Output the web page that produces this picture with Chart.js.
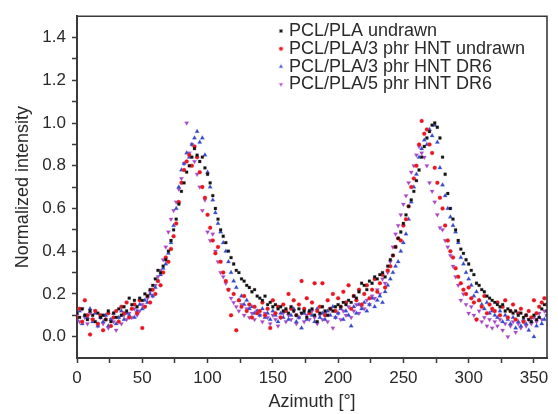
<!DOCTYPE html>
<html>
<head>
<meta charset="utf-8">
<script src="https://cdn.jsdelivr.net/npm/chart.js@4.4.1/dist/chart.umd.min.js"></script>
<style>
  html, body { margin: 0; padding: 0; background: #fff; }
  #wrap { width: 558px; height: 414px; }
</style>
</head>
<body>
<div id="wrap"><canvas id="azimuthChart" width="558" height="414"></canvas></div>
<script>
// azimuth positions (degrees)
let azimuth = [
  0, 2, 4, 6, 8, 10, 12, 14, 16, 18, 20, 22, 24, 26, 28, 30, 32, 34, 36, 38,
  40, 42, 44, 46, 48, 50, 52, 54, 56, 58, 60, 62, 64, 66, 68, 70, 72, 74, 76, 78,
  80, 82, 84, 86, 88, 90, 92, 94, 96, 98, 100, 102, 104, 106, 108, 110, 112, 114, 116, 118,
  120, 122, 124, 126, 128, 130, 132, 134, 136, 138, 140, 142, 144, 146, 148, 150, 152, 154, 156, 158,
  160, 162, 164, 166, 168, 170, 172, 174, 176, 178, 180, 182, 184, 186, 188, 190, 192, 194, 196, 198,
  200, 202, 204, 206, 208, 210, 212, 214, 216, 218, 220, 222, 224, 226, 228, 230, 232, 234, 236, 238,
  240, 242, 244, 246, 248, 250, 252, 254, 256, 258, 260, 262, 264, 266, 268, 270, 272, 274, 276, 278,
  280, 282, 284, 286, 288, 290, 292, 294, 296, 298, 300, 302, 304, 306, 308, 310, 312, 314, 316, 318,
  320, 322, 324, 326, 328, 330, 332, 334, 336, 338, 340, 342, 344, 346, 348, 350, 352, 354, 356, 358,
  360
];

let seriesNames = [
  "PCL/PLA undrawn",
  "PCL/PLA/3 phr HNT undrawn",
  "PCL/PLA/3 phr HNT DR6",
  "PCL/PLA/5 phr HNT DR6",
];

let pclPlaUndrawn = [
  0.11, 0.09, 0.13, 0.10, 0.08, 0.12, 0.10, 0.07, 0.11, 0.09,
  0.10, 0.08, 0.12, 0.07, 0.11, 0.09, 0.13, 0.10, 0.14, 0.12,
  0.18, 0.15, 0.17, 0.14, 0.18, 0.17, 0.20, 0.19, 0.22, 0.24,
  0.27, 0.31, 0.30, 0.33, 0.36, 0.40, 0.45, 0.50, 0.55, 0.62,
  0.68, 0.72, 0.77, 0.80, 0.84, 0.88, 0.85, 0.82, 0.84, 0.79,
  0.76, 0.72, 0.66, 0.60, 0.55, 0.50, 0.47, 0.44, 0.40, 0.37,
  0.34, 0.31, 0.30, 0.27, 0.26, 0.24, 0.23, 0.21, 0.22, 0.19,
  0.18, 0.17, 0.19, 0.15, 0.16, 0.14, 0.15, 0.13, 0.14, 0.12,
  0.13, 0.11, 0.14, 0.12, 0.10, 0.13, 0.11, 0.12, 0.09, 0.12,
  0.13, 0.10, 0.07, 0.11, 0.14, 0.12, 0.10, 0.13, 0.12, 0.14,
  0.15, 0.14, 0.16, 0.15, 0.17, 0.16, 0.19, 0.18, 0.21, 0.25,
  0.24, 0.22, 0.26, 0.25, 0.28, 0.27, 0.29, 0.30, 0.28, 0.33,
  0.36, 0.38, 0.42, 0.46, 0.49, 0.53, 0.57, 0.61, 0.64, 0.68,
  0.73, 0.78, 0.84, 0.89, 0.93, 0.96, 0.99, 1.00, 0.98, 0.93,
  0.84, 0.76, 0.67, 0.60, 0.55, 0.50, 0.45, 0.41, 0.39, 0.36,
  0.34, 0.31, 0.29, 0.25, 0.24, 0.22, 0.21, 0.19, 0.18, 0.17,
  0.16, 0.15, 0.14, 0.15, 0.12, 0.13, 0.12, 0.11, 0.12, 0.10,
  0.11, 0.09, 0.10, 0.08, 0.07, 0.10, 0.08, 0.09, 0.13, 0.15,
  0.12
];

let hnt3Undrawn = [
  0.09, 0.13, 0.07, 0.17, 0.10, 0.01, 0.08, 0.12, 0.06, 0.10,
  0.03, 0.08, 0.11, 0.05, 0.09, 0.12, 0.07, 0.14, 0.11, 0.16,
  0.09, 0.13, 0.15, 0.11, 0.17, 0.04, 0.14, 0.19, 0.16, 0.22,
  0.20, 0.26, 0.24, 0.30, 0.37, 0.35, 0.41, 0.47, 0.53, 0.63,
  0.72, 0.78, 0.82, 0.85, 0.80, 0.89, 0.84, 0.77, 0.70, 0.65,
  0.57, 0.51, 0.45, 0.39, 0.42, 0.35, 0.30, 0.26, 0.22, 0.10,
  0.20, 0.03, 0.17, 0.14, 0.19, 0.12, 0.15, 0.09, 0.14, 0.11,
  0.12, 0.16, 0.10, 0.13, 0.04, 0.17, 0.11, 0.14, 0.09, 0.15,
  0.12, 0.20, 0.13, 0.17, 0.10, 0.15, 0.26, 0.13, 0.18, 0.11,
  0.16, 0.25, 0.12, 0.14, 0.25, 0.10, 0.17, 0.13, 0.20, 0.12,
  0.18, 0.14, 0.21, 0.16, 0.24, 0.13, 0.19, 0.17, 0.22, 0.15,
  0.20, 0.24, 0.18, 0.22, 0.27, 0.21, 0.25, 0.29, 0.23, 0.31,
  0.33, 0.38, 0.42, 0.46, 0.45, 0.52, 0.55, 0.61, 0.70, 0.74,
  0.80, 0.90, 1.01, 0.95, 0.97, 0.90, 0.86, 0.79, 0.72, 0.65,
  0.60, 0.52, 0.45, 0.40, 0.37, 0.32, 0.28, 0.25, 0.22, 0.20,
  0.23, 0.18, 0.16, 0.08, 0.17, 0.14, 0.19, 0.11, 0.15, 0.13,
  0.12, 0.16, 0.10, 0.14, 0.17, 0.09, 0.12, 0.15, 0.08, 0.11,
  0.13, 0.07, 0.10, 0.12, 0.09, 0.17, 0.11, 0.14, 0.16, 0.18,
  0.15
];

let hnt3DR6 = [
  0.08, 0.12, 0.06, 0.10, 0.09, 0.13, 0.07, 0.11, 0.05, 0.09,
  0.07, 0.10, 0.05, 0.08, 0.11, 0.06, 0.09, 0.12, 0.08, 0.11,
  0.10, 0.13, 0.09, 0.12, 0.15, 0.13, 0.17, 0.16, 0.20, 0.19,
  0.23, 0.26, 0.29, 0.32, 0.34, 0.39, 0.44, 0.52, 0.60, 0.70,
  0.78, 0.81, 0.86, 0.84, 0.90, 0.93, 0.96, 0.91, 0.93, 0.85,
  0.77, 0.70, 0.64, 0.58, 0.53, 0.49, 0.44, 0.40, 0.35, 0.30,
  0.26, 0.23, 0.17, 0.19, 0.15, 0.17, 0.13, 0.14, 0.11, 0.12,
  0.10, 0.13, 0.09, 0.11, 0.08, 0.12, 0.10, 0.07, 0.11, 0.09,
  0.12, 0.08, 0.10, 0.13, 0.07, 0.09, 0.04, 0.11, 0.08, 0.12,
  0.10, 0.07, 0.13, 0.09, 0.11, 0.08, 0.12, 0.10, 0.14, 0.09,
  0.11, 0.13, 0.08, 0.12, 0.10, 0.05, 0.14, 0.11, 0.15, 0.13,
  0.16, 0.12, 0.15, 0.18, 0.14, 0.17, 0.19, 0.16, 0.21, 0.24,
  0.27, 0.30, 0.33, 0.35, 0.40, 0.44, 0.48, 0.55, 0.63, 0.70,
  0.76, 0.84, 0.88, 0.92, 0.90, 0.97, 0.94, 0.99, 0.91, 0.79,
  0.71, 0.66, 0.60, 0.56, 0.52, 0.49, 0.44, 0.37, 0.34, 0.30,
  0.27, 0.24, 0.19, 0.21, 0.17, 0.15, 0.13, 0.16, 0.11, 0.12,
  0.10, 0.09, 0.12, 0.07, 0.10, 0.08, 0.06, 0.09, 0.04, 0.07,
  0.05, 0.08, 0.06, 0.03, 0.07, 0.00, 0.05, 0.09, 0.06, 0.08,
  0.10
];

let hnt5DR6 = [
  0.10, 0.07, 0.13, 0.09, 0.06, 0.11, 0.08, 0.12, 0.05, 0.09,
  0.06, 0.10, 0.04, 0.08, 0.07, 0.03, 0.09, 0.06, 0.10, 0.08,
  0.11, 0.09, 0.13, 0.10, 0.12, 0.15, 0.14, 0.18, 0.21, 0.19,
  0.24, 0.28, 0.31, 0.36, 0.42, 0.49, 0.55, 0.59, 0.63, 0.69,
  0.74, 0.81, 1.00, 0.86, 0.90, 0.82, 0.76, 0.70, 0.59, 0.64,
  0.49, 0.45, 0.48, 0.40, 0.35, 0.30, 0.28, 0.25, 0.22, 0.18,
  0.16, 0.14, 0.12, 0.15, 0.10, 0.13, 0.09, 0.11, 0.08, 0.12,
  0.10, 0.07, 0.11, 0.09, 0.06, 0.10, 0.08, 0.05, 0.09, 0.11,
  0.07, 0.10, 0.08, 0.12, 0.06, 0.09, 0.11, 0.07, 0.10, 0.08,
  0.12, 0.09, 0.06, 0.10, 0.08, 0.11, 0.07, 0.13, 0.04, 0.09,
  0.11, 0.08, 0.12, 0.10, 0.14, 0.09, 0.12, 0.15, 0.11, 0.14,
  0.13, 0.17, 0.15, 0.19, 0.18, 0.22, 0.20, 0.27, 0.25, 0.30,
  0.35, 0.42, 0.48, 0.52, 0.57, 0.62, 0.66, 0.72, 0.77, 0.80,
  0.85, 0.89, 0.86, 0.84, 0.80, 0.72, 0.68, 0.63, 0.57, 0.51,
  0.50, 0.45, 0.42, 0.38, 0.33, 0.28, 0.24, 0.17, 0.20, 0.15,
  0.11, 0.14, 0.10, 0.08, 0.12, 0.07, 0.09, 0.05, 0.08, 0.04,
  0.07, 0.05, 0.08, 0.03, 0.06, 0.00, 0.05, 0.07, 0.02, 0.06,
  0.04, 0.07, 0.05, 0.08, 0.06, 0.09, 0.07, 0.11, 0.08, 0.12,
  0.10
];

let xTicks = [0, 50, 100, 150, 200, 250, 300, 350];
let yTicks = [0.0, 0.2, 0.4, 0.6, 0.8, 1.0, 1.2, 1.4];

let axisColor = "#3a3a3a";
let textColor = "#2a2a2a";
let fontFamily = "'Liberation Sans', Arial, Helvetica, sans-serif";

function toPoints(values) {
  return values.map((v, i) => ({ x: azimuth[i], y: v }));
}

let styles = [
  { color: "#111111", halo: "rgba(60,60,60,0.35)", shape: "rect", rot: 0, r: 2 },
  { color: "#e8151f", halo: "rgba(240,80,90,0.35)", shape: "circle", rot: 0, r: 2 },
  { color: "#3447c8", halo: "rgba(90,110,220,0.35)", shape: "triangle", rot: 0, r: 2.5 },
  { color: "#a646c2", halo: "rgba(190,110,220,0.35)", shape: "triangle", rot: 180, r: 2.5 },
];
let allSeries = [pclPlaUndrawn, hnt3Undrawn, hnt3DR6, hnt5DR6];

let datasets = allSeries.map((vals, k) => ({
  label: seriesNames[k],
  data: toPoints(vals),
  pointStyle: styles[k].shape,
  rotation: styles[k].rot,
  pointRadius: styles[k].r,
  pointBorderWidth: 0.8,
  backgroundColor: styles[k].color,
  borderColor: styles[k].halo,
  showLine: false,
}));

// box on top and right, plus the legend inside the plot
let frameAndLegend = {
  id: "frameAndLegend",
  afterDraw(chart) {
    let ctx = chart.ctx;
    let a = chart.chartArea;
    ctx.save();
    ctx.strokeStyle = axisColor;
    ctx.lineWidth = 1.6;
    ctx.beginPath();
    ctx.moveTo(a.left, a.top);
    ctx.lineTo(a.right, a.top);
    ctx.lineTo(a.right, a.bottom);
    ctx.stroke();

    ctx.font = "18px " + fontFamily;
    ctx.textBaseline = "middle";
    ctx.textAlign = "left";
    for (let k = 0; k < seriesNames.length; k++) {
      let y = 31 + k * 17.8;
      ctx.fillStyle = styles[k].color;
      ctx.strokeStyle = styles[k].halo;
      Chart.helpers.drawPoint(
        ctx,
        { pointStyle: styles[k].shape, radius: 1.8, rotation: styles[k].rot, borderWidth: 0.8 },
        281,
        y
      );
      ctx.fillStyle = textColor;
      ctx.fillText(seriesNames[k], 289, y);
    }
    ctx.restore();
  },
};

let ctx = document.getElementById("azimuthChart").getContext("2d");
let azimuthChart = new Chart(ctx, {
  type: "scatter",
  data: { datasets: datasets },
  plugins: [frameAndLegend],
  options: {
    responsive: false,
    animation: false,
    devicePixelRatio: 1,
    layout: { padding: { top: 12, right: 11, left: 0, bottom: 0 } },
    plugins: {
      legend: { display: false },
      tooltip: { enabled: false },
    },
    scales: {
      x: {
        type: "linear",
        min: 0,
        max: 360,
        afterFit(scale) {
          scale.height = 56;
        },
        afterBuildTicks(scale) {
          let t = [];
          for (let v = 0; v <= 350; v += 25) t.push({ value: v });
          scale.ticks = t;
        },
        ticks: {
          color: textColor,
          font: { size: 17, family: fontFamily },
          padding: 5,
          maxRotation: 0,
          autoSkip: false,
          callback: (v) => (xTicks.includes(v) ? String(v) : ""),
        },
        grid: {
          drawOnChartArea: false,
          color: axisColor,
          tickLength: 5,
          tickWidth: 1.5,
        },
        border: { color: axisColor, width: 2 },
        title: {
          display: true,
          text: "Azimuth [°]",
          color: textColor,
          font: { size: 18, family: fontFamily },
          padding: { top: 0, bottom: 1 },
        },
      },
      y: {
        min: -0.1,
        max: 1.5,
        afterFit(scale) {
          scale.width = 77;
        },
        afterBuildTicks(scale) {
          let t = [];
          for (let i = 0; i <= 14; i++) t.push({ value: i / 10 });
          scale.ticks = t;
        },
        ticks: {
          color: textColor,
          font: { size: 17, family: fontFamily },
          padding: 6,
          autoSkip: false,
          callback: (v) => (yTicks.some((t) => Math.abs(t - v) < 1e-6) ? v.toFixed(1) : ""),
        },
        grid: {
          drawOnChartArea: false,
          color: axisColor,
          tickLength: 5,
          tickWidth: 1.5,
        },
        border: { color: axisColor, width: 2 },
        title: {
          display: true,
          text: "Normalized intensity",
          color: textColor,
          font: { size: 18, family: fontFamily },
          padding: { top: 12, bottom: 0 },
        },
      },
    },
  },
});
</script>
</body>
</html>
